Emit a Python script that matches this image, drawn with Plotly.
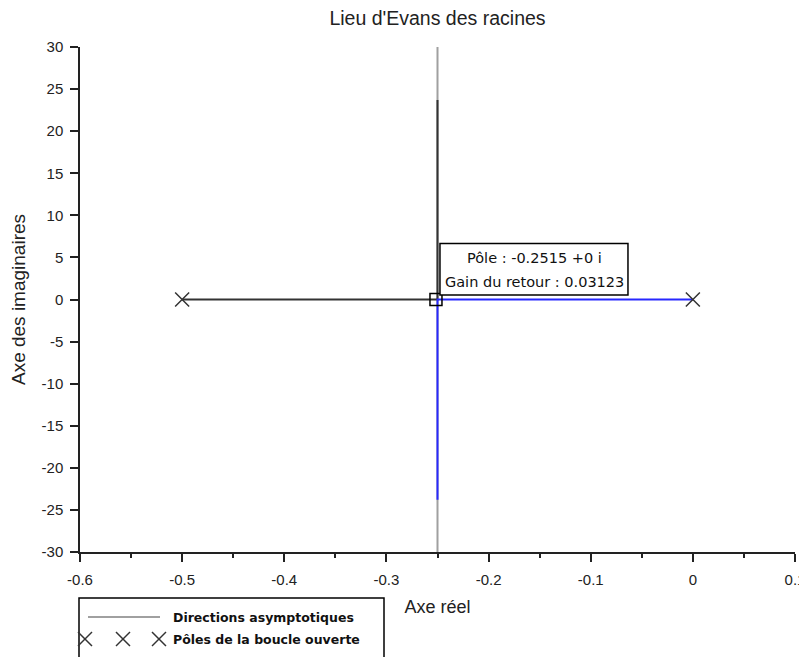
import plotly.graph_objects as go

# ---- data ----
x_ticks = [-0.6, -0.5, -0.4, -0.3, -0.2, -0.1, 0.0, 0.1]
x_tick_labels = ["-0.6", "-0.5", "-0.4", "-0.3", "-0.2", "-0.1", "0", "0.1"]
y_ticks = [-30, -25, -20, -15, -10, -5, 0, 5, 10, 15, 20, 25, 30]
y_tick_labels = ["-30", "-25", "-20", "-15", "-10", "-5", "0", "5", "10", "15", "20", "25", "30"]

asym_x = [-0.25, -0.25]
asym_y = [-30, 30]

branch1_x = [-0.5, -0.25, -0.25]
branch1_y = [0, 0, 23.7]

branch2_x = [0.0, -0.25, -0.25]
branch2_y = [0, 0, -23.8]

poles_x = [-0.5, 0.0]
poles_y = [0, 0]

tip_x = [-0.2515]
tip_y = [0]
tip_lines = ["Pôle : -0.2515 +0 i", "Gain du retour : 0.03123"]

legend_labels = ["Directions asymptotiques", "Pôles de la boucle ouverte"]

title_text = "Lieu d'Evans des racines"
x_title = "Axe réel"
y_title = "Axe des imaginaires"

# ---- styling ----
AX = "#222222"
FONT = "Liberation Sans"
TIPFONT = "DejaVu Sans"
OFF = 8  # page body margin

fig = go.Figure()
fig.add_trace(go.Scatter(x=asym_x, y=asym_y, mode="lines",
                         line=dict(color="#a0a0a0", width=2), hoverinfo="skip"))
fig.add_trace(go.Scatter(x=branch1_x, y=branch1_y, mode="lines",
                         line=dict(color="#333333", width=2)))
fig.add_trace(go.Scatter(x=branch2_x, y=branch2_y, mode="lines",
                         line=dict(color="rgb(40,40,255)", width=2)))
fig.add_trace(go.Scatter(x=poles_x, y=poles_y, mode="markers",
                         marker=dict(symbol="x-thin", size=14,
                                     line=dict(color="#333333", width=1.5)),
                         cliponaxis=False))
fig.add_trace(go.Scatter(x=tip_x, y=tip_y, mode="markers",
                         marker=dict(symbol="square-open", size=12, color="black",
                                     line=dict(width=1.5)),
                         cliponaxis=False))

# data tip box anchored to the tip point
fig.add_shape(type="rect", xref="x", yref="y",
              xsizemode="pixel", ysizemode="pixel",
              xanchor=tip_x[0], yanchor=tip_y[0],
              x0=4, x1=192, y0=4.5, y1=56,
              line=dict(color="black", width=1.5), fillcolor="white", layer="above")
for txt, ys in zip(tip_lines, [41.5, 17.5]):
    fig.add_annotation(x=tip_x[0], y=tip_y[0], xref="x", yref="y",
                       text=txt, showarrow=False, xshift=99, yshift=ys,
                       xanchor="center", yanchor="middle",
                       font=dict(family=TIPFONT, size=14.5, color="#111"))

# manual legend (paper coordinates from page pixel positions)
def px(p):
    return (p - 80) / 715.0

def py(p):
    return (552 - p) / 505.0

fig.add_shape(type="rect", xref="paper", yref="paper",
              x0=px(79), x1=px(384), y0=py(598), y1=py(720),
              line=dict(color="black", width=1.5), fillcolor="white")
fig.add_shape(type="line", xref="paper", yref="paper",
              x0=px(88), x1=px(160), y0=py(617), y1=py(617),
              line=dict(color="#a0a0a0", width=2))
for cx in [85, 123, 159]:
    d = 7
    fig.add_shape(type="line", xref="paper", yref="paper",
                  x0=px(cx - d), x1=px(cx + d), y0=py(639 - d), y1=py(639 + d),
                  line=dict(color="#333333", width=1.5))
    fig.add_shape(type="line", xref="paper", yref="paper",
                  x0=px(cx - d), x1=px(cx + d), y0=py(639 + d), y1=py(639 - d),
                  line=dict(color="#333333", width=1.5))
for lab, yy in zip(legend_labels, [617, 639]):
    fig.add_annotation(x=px(171), y=py(yy), xref="paper", yref="paper",
                       text=lab, showarrow=False, xanchor="left", yanchor="middle",
                       font=dict(family=TIPFONT, size=12.5, color="#111", weight="bold"))

axis_common = dict(showgrid=False, zeroline=False, showline=True,
                   linecolor=AX, linewidth=1.5, ticks="outside", ticklen=8,
                   tickwidth=1.5, tickcolor=AX, mirror=False,
                   ticklabeloverflow="allow",
                   tickfont=dict(family=FONT, size=15, color="#222"))

fig.update_xaxes(range=[-0.6, 0.1], tickvals=x_ticks, ticktext=x_tick_labels,
                 minor=dict(ticks="outside", ticklen=4, tickwidth=1.5, tickcolor=AX,
                            dtick=0.05, tick0=0, showgrid=False),
                 title=dict(text=x_title, font=dict(family=FONT, size=18, color="#222"),
                            standoff=14),
                 ticklabelstandoff=5, **axis_common)
fig.update_yaxes(range=[-30, 30], tickvals=y_ticks, ticktext=y_tick_labels,
                 title=dict(text=y_title, font=dict(family=FONT, size=19, color="#222"),
                            standoff=14),
                 ticklabelstandoff=4, **axis_common)

W, H = 807 - OFF, 657 - OFF
fig.update_layout(
    width=W, height=H,
    margin=dict(l=80 - OFF, r=12, t=47 - OFF, b=H - (552 - OFF), autoexpand=False),
    paper_bgcolor="white", plot_bgcolor="white",
    showlegend=False,
    title=dict(text=title_text, x=0.5, xref="paper", y=1 - (18 - OFF) / H, yref="container",
               xanchor="center", yanchor="middle",
               font=dict(family=FONT, size=19.5, color="#222")),
)

fig.write_html("out.html", default_width=f"{W}px", default_height=f"{H}px",
               post_script="document.body.style.overflow='hidden';")
